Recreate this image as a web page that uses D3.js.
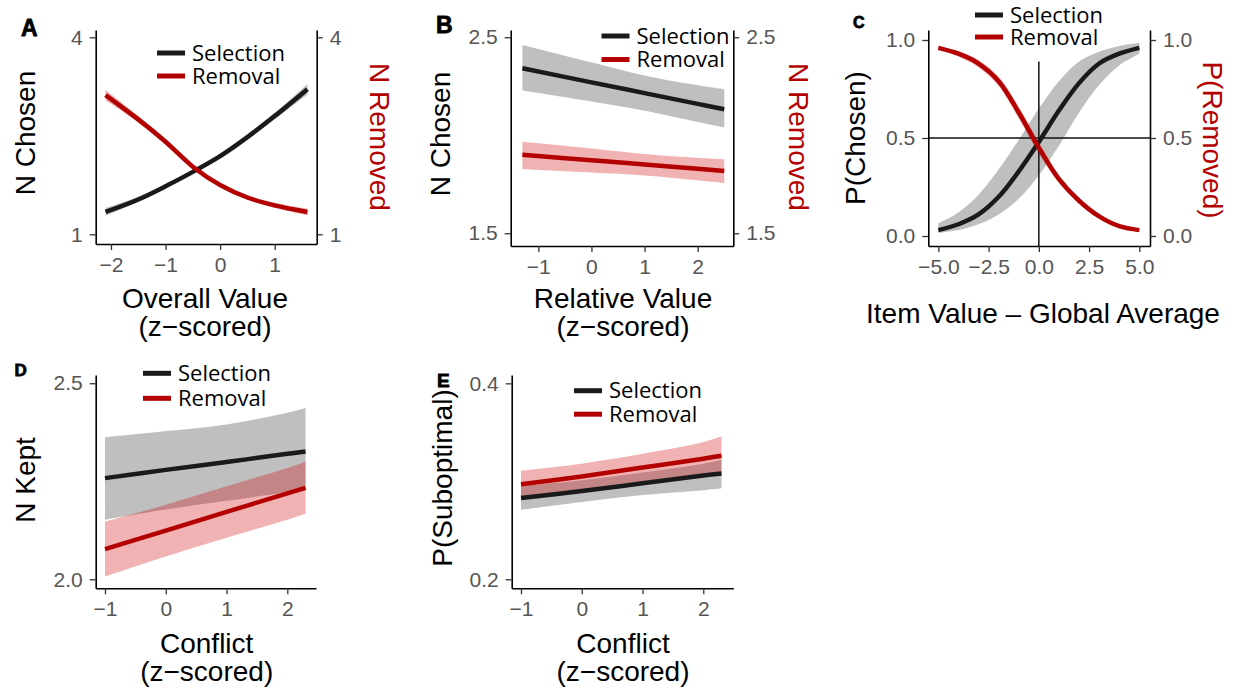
<!DOCTYPE html>
<html><head><meta charset="utf-8">
<script src="https://cdn.jsdelivr.net/npm/d3@7"></script>
<style>body{margin:0;background:#fff} svg{display:block}</style>
</head><body><svg id="c" width="1237" height="692"></svg>
<script>
// ---------------- DATA ----------------
const seriesNames = ["Selection", "Removal"];

// Panel A: Overall Value (z-scored)
const aX      = [-2.1, -1.5, -1, -0.5, 0, 0.5, 1, 1.6];
const aSel    = [1.34, 1.53, 1.73, 1.95, 2.19, 2.48, 2.80, 3.21];
const aSelLo  = [1.28, 1.49, 1.70, 1.92, 2.16, 2.44, 2.75, 3.13];
const aSelHi  = [1.40, 1.57, 1.76, 1.98, 2.22, 2.52, 2.85, 3.29];
const aRem    = [3.12, 2.75, 2.41, 2.03, 1.75, 1.56, 1.44, 1.34];
const aRemLo  = [3.04, 2.70, 2.37, 2.00, 1.72, 1.53, 1.40, 1.29];
const aRemHi  = [3.20, 2.80, 2.45, 2.06, 1.78, 1.59, 1.48, 1.39];
const aXTicks = [-2, -1, 0, 1];
const aYTicks = [1, 4];

// Panel B: Relative Value (z-scored)
const bX      = [-1.3, 0, 1, 2, 2.5];
const bSel    = [2.342, 2.270, 2.215, 2.160, 2.133];
const bSelLo  = [2.228, 2.172, 2.125, 2.068, 2.040];
const bSelHi  = [2.461, 2.372, 2.305, 2.255, 2.235];
const bRem    = [1.900, 1.872, 1.851, 1.829, 1.818];
const bRemLo  = [1.827, 1.810, 1.795, 1.770, 1.755];
const bRemHi  = [1.967, 1.933, 1.905, 1.885, 1.877];
const bXTicks = [-1, 0, 1, 2];
const bYTicks = [1.5, 2.5];

// Panel C: Item Value - Global Average
const cX      = [-5, -4, -3, -2, -1, 0, 1, 2, 3, 4, 5];
const cSel    = [0.03, 0.06, 0.11, 0.20, 0.33, 0.48, 0.64, 0.78, 0.88, 0.93, 0.96];
const cSelLo  = [0.015, 0.03, 0.06, 0.11, 0.19, 0.31, 0.46, 0.63, 0.77, 0.87, 0.93];
const cSelHi  = [0.065, 0.12, 0.21, 0.34, 0.49, 0.65, 0.79, 0.89, 0.94, 0.97, 0.985];
const cRem    = [0.96, 0.93, 0.88, 0.79, 0.63, 0.45, 0.29, 0.18, 0.10, 0.05, 0.03];
const cRemLo  = [0.95, 0.915, 0.86, 0.765, 0.60, 0.42, 0.27, 0.165, 0.09, 0.043, 0.024];
const cRemHi  = [0.968, 0.943, 0.898, 0.812, 0.66, 0.48, 0.31, 0.195, 0.112, 0.058, 0.036];
const cXTicks = [-5, -2.5, 0, 2.5, 5];
const cYTicks = [0, 0.5, 1];
const cHLine  = 0.5;          // horizontal reference
const cVLine  = 0;            // vertical reference
const cVLineTop = 0.89;       // visible top of the vertical reference line

// Panel D: Conflict -> N Kept
const dX      = [-1, 0, 1, 2, 2.3];
const dSel    = [2.258, 2.279, 2.299, 2.320, 2.326];
const dSelLo  = [2.152, 2.178, 2.200, 2.222, 2.228];
const dSelHi  = [2.362, 2.378, 2.395, 2.425, 2.437];
const dRem    = [2.077, 2.124, 2.172, 2.219, 2.233];
const dRemLo  = [2.007, 2.058, 2.106, 2.152, 2.167];
const dRemHi  = [2.147, 2.190, 2.237, 2.284, 2.300];
const dXTicks = [-1, 0, 1, 2];
const dYTicks = [2.0, 2.5];

// Panel E: Conflict -> P(Suboptimal)
const eX      = [-1, 0, 1, 2, 2.3];
const eSel    = [0.283, 0.290, 0.298, 0.306, 0.308];
const eSelLo  = [0.271, 0.279, 0.286, 0.291, 0.293];
const eSelHi  = [0.295, 0.301, 0.309, 0.318, 0.322];
const eRem    = [0.297, 0.305, 0.314, 0.323, 0.326];
const eRemLo  = [0.284, 0.292, 0.300, 0.306, 0.308];
const eRemHi  = [0.311, 0.318, 0.328, 0.340, 0.346];
const eXTicks = [-1, 0, 1, 2];
const eYTicks = [0.2, 0.4];

// ---------------- STYLE ----------------
const BLACK = "#1a1a1a", RED = "#b30000";
const GRAY_FILL = "#7f7f7f", RED_FILL = "#cc0000";
const TITLE_FONT = "'Liberation Sans', Arial, sans-serif";
const LEG_FONT = "'Open Sans', 'Liberation Sans', sans-serif";
const minus = s => String(s).replace("-", "\u2212");

const svg = d3.select("#c");

function zip(x, m, lo, hi) { return x.map((v, i) => ({x: v, y: m[i], lo: lo[i], hi: hi[i]})); }

function panel(cfg) {
  const x = d3.scaleLinear().domain(cfg.xDomain).range([cfg.left, cfg.right]);
  const y = d3.scaleLinear().domain(cfg.yDomain).range([cfg.bottom, cfg.top]);
  const g = svg.append("g");
  const curve = d3.curveCatmullRom;

  // ribbons
  cfg.series.forEach(s => {
    g.append("path").datum(s.data)
      .attr("d", d3.area().curve(curve).x(d => x(d.x)).y0(d => y(d.lo)).y1(d => y(d.hi)))
      .attr("fill", s.fill).attr("fill-opacity", s.fillOpacity);
  });

  // reference lines (panel C)
  if (cfg.hline !== undefined) {
    g.append("line").attr("x1", cfg.left).attr("x2", cfg.right)
      .attr("y1", y(cfg.hline)).attr("y2", y(cfg.hline))
      .attr("stroke", "#111").attr("stroke-width", 1.5);
  }
  if (cfg.vline !== undefined) {
    g.append("line").attr("x1", x(cfg.vline)).attr("x2", x(cfg.vline))
      .attr("y1", cfg.bottom).attr("y2", y(cfg.vlineTop))
      .attr("stroke", "#111").attr("stroke-width", 1.5);
  }

  // lines
  cfg.series.forEach(s => {
    g.append("path").datum(s.data)
      .attr("d", d3.line().curve(curve).x(d => x(d.x)).y(d => y(d.y)))
      .attr("fill", "none").attr("stroke", s.color).attr("stroke-width", 4.5)
      .attr("stroke-linecap", "butt");
  });

  // axes
  function styleAxis(ax) {
    ax.attr("font-family", null).attr("font-size", null);
    ax.select(".domain").attr("stroke", "#000").attr("stroke-width", 1.6);
    ax.selectAll(".tick line").attr("stroke", "#333").attr("stroke-width", 1.3);
    ax.selectAll(".tick text").attr("fill", "#555").style("font-family", TITLE_FONT).style("font-size", "21px");
  }
  const ax = g.append("g").attr("transform", `translate(0,${cfg.bottom})`)
    .call(d3.axisBottom(x).tickValues(cfg.xTicks).tickFormat(cfg.xFmt)
      .tickSize(6).tickSizeOuter(0).tickPadding(7));
  styleAxis(ax);
  const ay = g.append("g").attr("transform", `translate(${cfg.left},0)`)
    .call(d3.axisLeft(y).tickValues(cfg.yTicks).tickFormat(cfg.yFmt)
      .tickSize(6).tickSizeOuter(0).tickPadding(7));
  styleAxis(ay);
  if (cfg.rightAxis) {
    const ar = g.append("g").attr("transform", `translate(${cfg.right},0)`)
      .call(d3.axisRight(y).tickValues(cfg.yTicks).tickFormat(cfg.yFmt)
        .tickSize(6).tickSizeOuter(0).tickPadding(7));
    styleAxis(ar);
  }

  // axis titles
  g.append("text").attr("transform", `translate(${cfg.yTitlePos[0]},${cfg.yTitlePos[1]}) rotate(-90)`)
    .attr("text-anchor", "middle").attr("dy", "0.35em")
    .style("font-family", TITLE_FONT).style("font-size", "28px").attr("fill", "#000")
    .text(cfg.yTitle);
  if (cfg.rightTitle) {
    g.append("text").attr("transform", `translate(${cfg.rightTitlePos[0]},${cfg.rightTitlePos[1]}) rotate(90)`)
      .attr("text-anchor", "middle").attr("dy", "0.35em")
      .style("font-family", TITLE_FONT).style("font-size", "28px").attr("fill", RED)
      .text(cfg.rightTitle);
  }
  cfg.xTitle.forEach((t, i) => {
    g.append("text").attr("x", cfg.xTitlePos[0]).attr("y", cfg.xTitlePos[1] + i * 28)
      .attr("text-anchor", "middle")
      .style("font-family", TITLE_FONT).style("font-size", "28px").attr("fill", "#000")
      .text(t);
  });

  // legend
  cfg.series.forEach((s, i) => {
    const ly = cfg.legend[1] + i * cfg.legendGap;
    g.append("line").attr("x1", cfg.legend[0]).attr("x2", cfg.legend[0] + 28)
      .attr("y1", ly).attr("y2", ly).attr("stroke", s.color).attr("stroke-width", 5);
    g.append("text").attr("x", cfg.legend[0] + 35).attr("y", ly).attr("dy", "0.35em")
      .style("font-family", LEG_FONT).style("font-size", "22px").attr("fill", "#000")
      .text(s.name);
  });

  // panel letter
  g.append("text").attr("x", cfg.letterPos[0]).attr("y", cfg.letterPos[1])
    .style("font-family", "'Liberation Sans', Arial, sans-serif").style("font-weight", "bold")
    .style("font-size", cfg.letterSize + "px")
    .attr("stroke", "#000").attr("stroke-width", 0.8)
    .attr("fill", "#000").text(cfg.letter);
}

function twoSeries(x, s, sl, sh, r, rl, rh) {
  return [
    {name: seriesNames[0], data: zip(x, s, sl, sh), color: BLACK, fill: GRAY_FILL, fillOpacity: 0.5},
    {name: seriesNames[1], data: zip(x, r, rl, rh), color: RED, fill: RED_FILL, fillOpacity: 0.3}
  ];
}
const fmtInt = d => minus(d3.format("d")(d));
const fmt1 = d => minus(d3.format(".1f")(d));

// Panel A
panel({
  left: 95.7, right: 316.7, top: 30, bottom: 244,
  xDomain: [-2.28, 1.77], yDomain: [0.852, 4.111],
  xTicks: aXTicks, yTicks: aYTicks, xFmt: fmtInt, yFmt: fmtInt, rightAxis: true,
  series: twoSeries(aX, aSel, aSelLo, aSelHi, aRem, aRemLo, aRemHi),
  yTitle: "N Chosen", yTitlePos: [25, 133],
  rightTitle: "N Removed", rightTitlePos: [380, 137],
  xTitle: ["Overall Value", "(z\u2212scored)"], xTitlePos: [205, 308],
  legend: [157, 53], legendGap: 23,
  letter: "A", letterPos: [21, 35.5], letterSize: 23
});

// Panel B
panel({
  left: 510.7, right: 733.3, top: 30, bottom: 246,
  xDomain: [-1.52, 2.67], yDomain: [1.435, 2.537],
  xTicks: bXTicks, yTicks: bYTicks, xFmt: fmtInt, yFmt: fmt1, rightAxis: true,
  series: twoSeries(bX, bSel, bSelLo, bSelHi, bRem, bRemLo, bRemHi),
  yTitle: "N Chosen", yTitlePos: [440, 134],
  rightTitle: "N Removed", rightTitlePos: [799, 137],
  xTitle: ["Relative Value", "(z\u2212scored)"], xTitlePos: [623, 308],
  legend: [601.5, 36], legendGap: 23.5,
  letter: "B", letterPos: [436, 33], letterSize: 23
});

// Panel C
panel({
  left: 928.3, right: 1150, top: 30, bottom: 246,
  xDomain: [-5.5, 5.53], yDomain: [-0.051, 1.051],
  xTicks: cXTicks, yTicks: cYTicks, xFmt: fmt1, yFmt: fmt1, rightAxis: true,
  hline: cHLine, vline: cVLine, vlineTop: cVLineTop,
  series: twoSeries(cX, cSel, cSelLo, cSelHi, cRem, cRemLo, cRemHi),
  yTitle: "P(Chosen)", yTitlePos: [855, 138],
  rightTitle: "P(Removed)", rightTitlePos: [1213, 140],
  xTitle: ["Item Value \u2013 Global Average"], xTitlePos: [1043, 323],
  legend: [975, 15], legendGap: 22,
  letter: "C", letterPos: [853, 27.5], letterSize: 16
});

// Panel D
panel({
  left: 95.7, right: 316, top: 375, bottom: 588.3,
  xDomain: [-1.153, 2.472], yDomain: [1.977, 2.521],
  xTicks: dXTicks, yTicks: dYTicks, xFmt: fmtInt, yFmt: fmt1, rightAxis: false,
  series: twoSeries(dX, dSel, dSelLo, dSelHi, dRem, dRemLo, dRemHi),
  yTitle: "N Kept", yTitlePos: [25, 480],
  xTitle: ["Conflict", "(z\u2212scored)"], xTitlePos: [206.7, 653],
  legend: [143, 373.3], legendGap: 25,
  letter: "D", letterPos: [14.5, 375.5], letterSize: 17
});

// Panel E
panel({
  left: 511.7, right: 733.3, top: 375, bottom: 588.3,
  xDomain: [-1.153, 2.494], yDomain: [0.1908, 0.4085],
  xTicks: eXTicks, yTicks: eYTicks, xFmt: fmtInt, yFmt: fmt1, rightAxis: false,
  series: twoSeries(eX, eSel, eSelLo, eSelHi, eRem, eRemLo, eRemHi),
  yTitle: "P(Suboptimal)", yTitlePos: [441.7, 478],
  xTitle: ["Conflict", "(z\u2212scored)"], xTitlePos: [623, 653],
  legend: [574, 390.7], legendGap: 23.5,
  letter: "E", letterPos: [437, 387], letterSize: 19
});
</script>
</body></html>
